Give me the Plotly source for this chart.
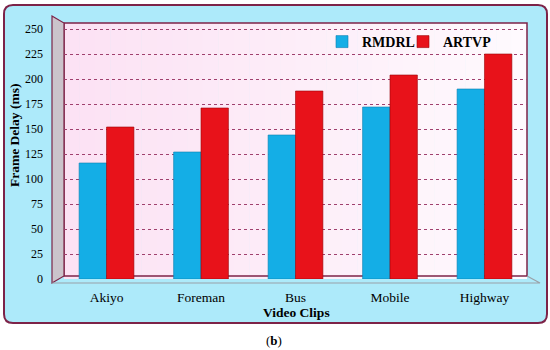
import plotly.graph_objects as go

categories = ["Akiyo", "Foreman", "Bus", "Mobile", "Highway"]
rmdrl = [116, 127, 144, 172, 190]
artvp = [152, 171, 188, 204, 225]
y_ticks = [0, 25, 50, 75, 100, 125, 150, 175, 200, 225, 250]

W, H = 550, 350
L, R, T, B = 64, 527, 23, 279  # plot area in pixels


def px(x):
    return (x - L) / (R - L)


def py(y):
    return (B - y) / (B - T)


SERIF = "Liberation Serif, Times New Roman, serif"
MAROON = "#7d2348"

fig = go.Figure()
fig.add_trace(go.Bar(name="RMDRL", x=categories, y=rmdrl, legend="legend",
                     marker=dict(color="#14aee6", line=dict(color="#0b7fb0", width=0.6))))
fig.add_trace(go.Bar(name="ARTVP", x=categories, y=artvp, legend="legend2",
                     marker=dict(color="#e8121a", line=dict(color="#9a0508", width=0.6))))

shapes = []
# outer rounded light-blue box
x0, x1, y0, y1 = px(4), px(547), py(323), py(5)
rx, ry = 9 / (R - L), 9 / (B - T)
path = (f"M {x0+rx},{y1} L {x1-rx},{y1} Q {x1},{y1} {x1},{y1-ry} "
        f"L {x1},{y0+ry} Q {x1},{y0} {x1-rx},{y0} L {x0+rx},{y0} "
        f"Q {x0},{y0} {x0},{y0+ry} L {x0},{y1-ry} Q {x0},{y1} {x0+rx},{y1} Z")
shapes.append(dict(type="path", xref="paper", yref="paper", path=path,
                   fillcolor="#adeafa", line=dict(color=MAROON, width=2), layer="below"))
# back wall gradient
n = 30
c0 = (252, 226, 244)
c1 = (255, 250, 254)
for i in range(n):
    t = i / (n - 1)
    col = tuple(int(c0[k] + (c1[k] - c0[k]) * t) for k in range(3))
    xa = L + (R - L) * i / n
    xb = L + (R - L) * (i + 1) / n + 0.5
    shapes.append(dict(type="rect", xref="paper", yref="paper",
                       x0=px(xa), x1=px(min(xb, R)), y0=py(B), y1=py(T),
                       fillcolor="rgb(%d,%d,%d)" % col, line=dict(width=0), layer="below"))
shapes.append(dict(type="rect", xref="paper", yref="paper",
                   x0=px(L), x1=px(R), y0=py(B - 3), y1=py(T),
                   fillcolor="rgba(0,0,0,0)", line=dict(color=MAROON, width=1.5), layer="below"))
# side wall
shapes.append(dict(type="path", xref="paper", yref="paper",
                   path=f"M {px(52)},{py(16)} L {px(L)},{py(T)} L {px(L)},{py(B-3)} L {px(52)},{py(283)} Z",
                   fillcolor="#cbc3cb", line=dict(color=MAROON, width=1.2), layer="below"))
# floor edges
shapes.append(dict(type="path", xref="paper", yref="paper",
                   path=f"M {px(52)},{py(283)} L {px(540)},{py(283)} L {px(R)},{py(B-3)}",
                   line=dict(color="#9aa0a8", width=1.2), layer="below"))

legend_font = dict(family=SERIF, size=14, color="black", weight="bold")
fig.update_layout(
    width=W, height=H,
    margin=dict(l=L, r=W - R, t=T, b=H - B, autoexpand=False),
    paper_bgcolor="white",
    plot_bgcolor="rgba(0,0,0,0)",
    barmode="group",
    bargap=0.42,
    bargroupgap=0.0,
    shapes=shapes,
    font=dict(family=SERIF, color="black"),
    showlegend=True,
    legend=dict(orientation="h", x=px(322), y=py(42), xanchor="left", yanchor="middle",
                bgcolor="rgba(0,0,0,0)", font=legend_font, itemwidth=30),
    legend2=dict(orientation="h", x=px(403), y=py(42), xanchor="left", yanchor="middle",
                 bgcolor="rgba(0,0,0,0)", font=legend_font, itemwidth=30),
    xaxis=dict(range=[-0.45, 4.45], showgrid=False, zeroline=False, showline=False,
               ticks="", tickfont=dict(family=SERIF, size=13.5, color="black"),
               ticklabelstandoff=8, automargin=False),
    yaxis=dict(range=[0, 256], tickvals=y_ticks, showgrid=True, gridcolor="#a0406e",
               griddash="dot", gridwidth=1.3, zeroline=False, showline=False, ticks="",
               tickfont=dict(family=SERIF, size=12, color="black"), ticklabelstandoff=20,
               automargin=False),
    annotations=[
        dict(text="<b>Frame Delay (ms)</b>", xref="paper", yref="paper", x=px(14), y=py(136),
             xanchor="center", yanchor="middle",
             textangle=-90, showarrow=False, font=dict(family=SERIF, size=13.5, color="black")),
        dict(text="<b>Video Clips</b>", xref="paper", yref="paper", x=px(296), y=py(312),
             xanchor="center", yanchor="middle",
             showarrow=False, font=dict(family=SERIF, size=13.5, color="black")),
        dict(text="(<b>b</b>)", xref="paper", yref="paper", x=px(274), y=py(340),
             xanchor="center", yanchor="middle",
             showarrow=False, font=dict(family=SERIF, size=13, color="black")),
    ],
)

fig.write_html("out.html", config={"displayModeBar": False},
               post_script="document.body.style.margin='0';document.body.style.overflow='hidden';")
